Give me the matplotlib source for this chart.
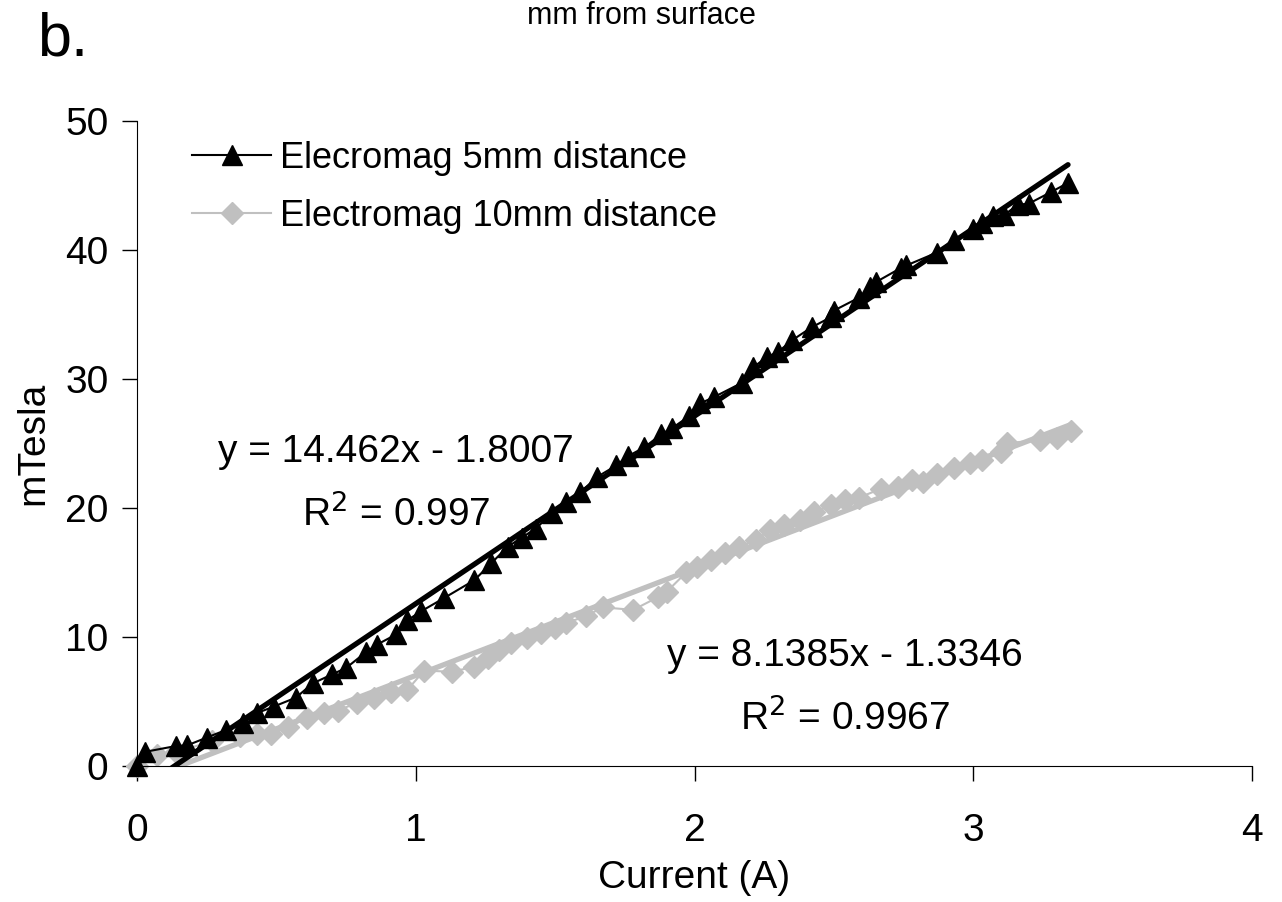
import matplotlib
matplotlib.use("Agg")
import matplotlib.pyplot as plt
import numpy as np

plt.rcParams['font.family'] = ['Liberation Sans', 'DejaVu Sans']

# Electromagnet, 5 mm distance (black triangles)
current_5mm = [0.00, 0.03, 0.14, 0.18, 0.25, 0.32, 0.38, 0.43, 0.49, 0.57,
               0.63, 0.70, 0.75, 0.82, 0.86, 0.93, 0.97, 1.02, 1.10, 1.21,
               1.27, 1.33, 1.38, 1.43, 1.49, 1.54, 1.59, 1.65, 1.72, 1.76,
               1.82, 1.88, 1.92, 1.98, 2.02, 2.07, 2.17, 2.21, 2.26, 2.30,
               2.35, 2.42, 2.49, 2.50, 2.59, 2.63, 2.65, 2.74, 2.76, 2.87,
               2.93, 3.00, 3.03, 3.07, 3.11, 3.16, 3.20, 3.28, 3.34]
tesla_5mm = [0.0, 1.1, 1.55, 1.6, 2.2, 2.8, 3.3, 4.1, 4.6, 5.3,
             6.4, 7.1, 7.6, 8.8, 9.4, 10.2, 11.3, 12.0, 13.0, 14.4,
             15.7, 17.0, 17.7, 18.4, 19.6, 20.5, 21.2, 22.4, 23.3, 24.0,
             24.7, 25.7, 26.2, 27.1, 28.1, 28.6, 29.7, 30.9, 31.7, 32.1,
             33.0, 34.0, 34.8, 35.3, 36.3, 37.1, 37.5, 38.6, 38.8, 39.8,
             40.8, 41.6, 42.1, 42.6, 42.7, 43.5, 43.6, 44.5, 45.2]

# Electromagnet, 10 mm distance (grey diamonds)
current_10mm = [0.00, 0.07, 0.14, 0.27, 0.37, 0.43, 0.48, 0.54, 0.61, 0.67,
                0.72, 0.79, 0.85, 0.91, 0.97, 1.03, 1.13, 1.21, 1.26, 1.30,
                1.34, 1.40, 1.45, 1.50, 1.54, 1.61, 1.67, 1.78, 1.87, 1.90,
                1.97, 2.01, 2.06, 2.11, 2.16, 2.22, 2.27, 2.32, 2.38, 2.43,
                2.49, 2.54, 2.59, 2.67, 2.73, 2.78, 2.82, 2.87, 2.93, 2.99,
                3.03, 3.10, 3.12, 3.24, 3.30, 3.35]
tesla_10mm = [0.0, 0.85, 1.1, 1.9, 2.3, 2.5, 2.5, 3.0, 3.7, 4.1,
              4.3, 4.9, 5.3, 5.7, 5.9, 7.4, 7.3, 7.7, 8.4, 9.0,
              9.5, 9.9, 10.3, 10.7, 11.1, 11.6, 12.3, 12.1, 13.1, 13.5,
              15.0, 15.4, 16.0, 16.5, 17.0, 17.5, 18.3, 18.7, 19.1, 19.7,
              20.2, 20.6, 20.8, 21.5, 21.6, 22.2, 22.0, 22.6, 23.1, 23.5,
              23.7, 24.3, 25.0, 25.3, 25.4, 26.0]

GREY = '#C0C0C0'

fig = plt.figure(figsize=(12.82, 9.02), dpi=100)
ax = fig.add_axes([0.1069, 0.1508, 0.8697, 0.7151])

ax.plot(current_5mm, tesla_5mm, color='black', lw=1.5, marker='^', ms=14,
        label='Elecromag 5mm distance', zorder=3, clip_on=False)
ax.plot(current_10mm, tesla_10mm, color=GREY, lw=1.5, marker='D', ms=11,
        label='Electromag 10mm distance', zorder=2, clip_on=False)

# linear trendlines
for xs, ys, col in [(current_5mm, tesla_5mm, 'black'), (current_10mm, tesla_10mm, GREY)]:
    m, b = np.polyfit(xs, ys, 1)
    xt = np.linspace(0, max(xs), 100)
    ax.plot(xt, m * xt + b, color=col, lw=3.8, solid_capstyle='round',
            zorder=4 if col == 'black' else 2)

ax.set_xlim(0, 4)
ax.set_ylim(0, 50)
ax.set_xticks([0, 1, 2, 3, 4])
ax.set_yticks([0, 10, 20, 30, 40, 50])
ax.spines['top'].set_visible(False)
ax.spines['right'].set_visible(False)
ax.tick_params(axis='both', labelsize=28, length=11, width=1, direction='out')
ax.tick_params(axis='y', pad=9.5)
ax.tick_params(axis='x', pad=23)
ax.set_xlabel('Current (A)', fontsize=28, labelpad=8)
ax.set_ylabel('mTesla', fontsize=28, labelpad=10)

ax.text(0.93, 24.3, 'y = 14.462x - 1.8007', fontsize=28, ha='center', va='center')
ax.text(0.93, 19.5, r'R$^{2}$ = 0.997', fontsize=28, ha='center', va='center')
ax.text(2.54, 8.5, 'y = 8.1385x - 1.3346', fontsize=28, ha='center', va='center')
ax.text(2.54, 3.7, r'R$^{2}$ = 0.9967', fontsize=28, ha='center', va='center')

ax.legend(loc='upper left', bbox_to_anchor=(0.02, 1.02), frameon=False, fontsize=26,
          handlelength=2.2, handletextpad=0.25, labelspacing=0.65)

fig.text(0.5, 1 - 24 / 902, 'mm from surface', fontsize=22, ha='center', va='baseline')
fig.text(0.029, 1 - 55 / 902, 'b.', fontsize=44, ha='left', va='baseline')

plt.savefig('out.png', dpi=100)
